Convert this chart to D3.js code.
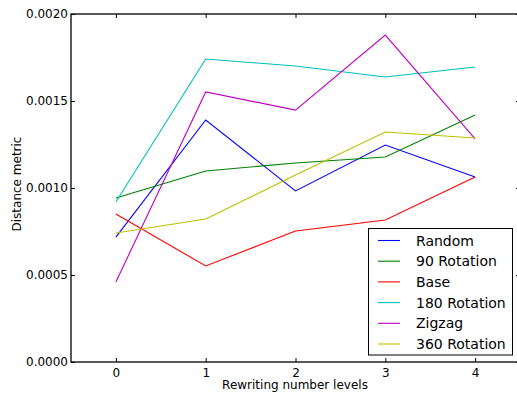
<!DOCTYPE html>
<html>
<head>
<meta charset="utf-8">
<script src="https://cdn.jsdelivr.net/npm/d3@7"></script>
<style>
  body { margin: 0; background: #fff; }
  text { font-family: "DejaVu Sans", sans-serif; fill: #000; }
</style>
</head>
<body>
<div id="chart"></div>
<script>
const levels = [0, 1, 2, 3, 4];
const seriesNames = ["Random", "90 Rotation", "Base", "180 Rotation", "Zigzag", "360 Rotation"];
const seriesColors = ["#0000ff", "#008000", "#ff0000", "#00bfbf", "#bf00bf", "#bfbf00"];
const random = [0.000718, 0.001391, 0.000983, 0.001247, 0.001063];
const rot90 = [0.000943, 0.001098, 0.001144, 0.001178, 0.00142];
const base = [0.000851, 0.000552, 0.000753, 0.000816, 0.001063];
const rot180 = [0.00092, 0.001741, 0.001701, 0.001638, 0.001695];
const zigzag = [0.00046, 0.001552, 0.001448, 0.001879, 0.001282];
const rot360 = [0.000741, 0.000822, 0.001075, 0.001322, 0.001287];
const yTicks = [0, 0.0005, 0.001, 0.0015, 0.002];

const allSeries = [random, rot90, base, rot180, zigzag, rot360];

const width = 517, height = 394,
  plotLeft = 71, plotRight = 520, plotTop = 14, plotBottom = 362;

const svg = d3.select("#chart").append("svg").attr("width", width).attr("height", height);

const x = d3.scaleLinear().domain([-0.5, 4.5]).range([plotLeft, plotRight]);
const y = d3.scaleLinear().domain([0, 0.002]).range([plotBottom, plotTop]);

// lines
const line = d3.line().x((d, i) => x(levels[i])).y((d) => y(d));
svg.append("g")
  .selectAll("path")
  .data(allSeries)
  .enter()
  .append("path")
  .attr("d", line)
  .attr("fill", "none")
  .attr("stroke", (d, i) => seriesColors[i])
  .attr("stroke-width", 1.1);

// axes, ticks inward
const fmt = d3.format(".4f");
svg.append("g").attr("transform", `translate(0,${plotBottom})`)
  .call(d3.axisBottom(x).tickValues(levels).tickSizeInner(-4).tickSizeOuter(0).tickPadding(6).tickFormat(d3.format("d")));
svg.append("g").attr("transform", `translate(0,${plotTop})`)
  .call(d3.axisTop(x).tickValues(levels).tickSizeInner(-4).tickSizeOuter(0).tickFormat(""));
svg.append("g").attr("transform", `translate(${plotLeft},0)`)
  .call(d3.axisLeft(y).tickValues(yTicks).tickSizeInner(-4).tickSizeOuter(0).tickPadding(3).tickFormat(fmt));
svg.append("g").attr("transform", `translate(${plotRight},0)`)
  .call(d3.axisRight(y).tickValues(yTicks).tickSizeInner(-4).tickSizeOuter(0).tickFormat(""));
svg.selectAll(".domain").remove();
svg.selectAll(".tick line").attr("stroke", "#000").attr("stroke-width", 1);
svg.selectAll(".tick text").attr("font-size", 12).style("font-family", "DejaVu Sans");

// frame
svg.append("rect").attr("x", plotLeft).attr("y", plotTop).attr("width", plotRight - plotLeft).attr("height", plotBottom - plotTop)
  .attr("fill", "none").attr("stroke", "#000").attr("stroke-width", 1.3);

// labels
svg.append("text").attr("x", 295).attr("y", 389).attr("text-anchor", "middle")
  .attr("font-size", 12).text("Rewriting number levels");
svg.append("text").attr("transform", `translate(21,184) rotate(-90)`).attr("text-anchor", "middle")
  .attr("font-size", 12).text("Distance metric");

// legend
const legend = svg.append("g");
legend.append("rect").attr("x", 368.5).attr("y", 228.5).attr("width", 144).attr("height", 126.5)
  .attr("fill", "#fff").attr("stroke", "#000").attr("stroke-width", 1);
const item = legend.selectAll("g.item").data(seriesNames).enter().append("g").attr("class", "item")
  .attr("transform", (d, i) => `translate(0,${240.5 + i * 20.7})`);
item.append("line").attr("x1", 378).attr("x2", 400).attr("y1", 0).attr("y2", 0)
  .attr("stroke", (d, i) => seriesColors[i]).attr("stroke-width", 1.1);
item.append("text").attr("x", 416).attr("y", 5).attr("font-size", 14).text((d) => d);
</script>
</body>
</html>
